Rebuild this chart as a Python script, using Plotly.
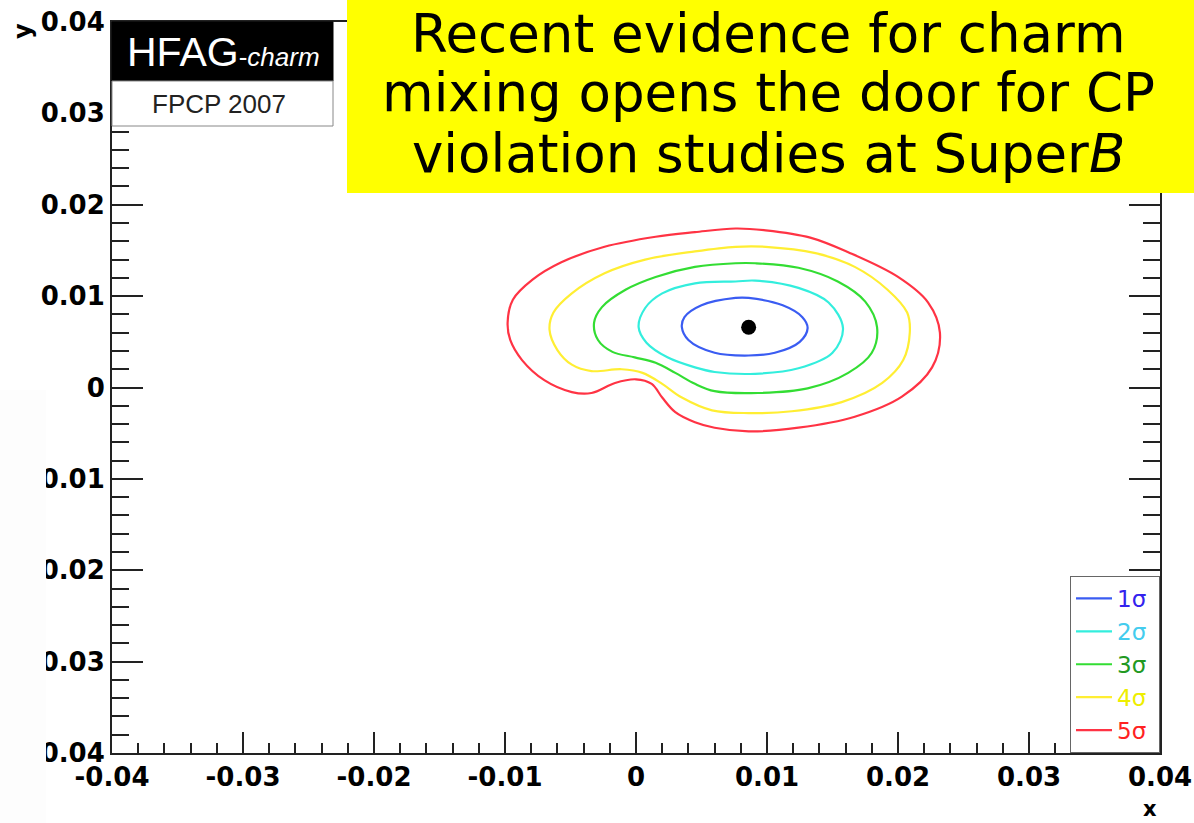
import plotly.graph_objects as go

# ---------------- data ----------------
tick_vals = [-0.04, -0.03, -0.02, -0.01, 0.0, 0.01, 0.02, 0.03, 0.04]
tick_text = ["-0.04", "-0.03", "-0.02", "-0.01", "0", "0.01", "0.02", "0.03", "0.04"]

best_x = [0.0086]
best_y = [0.0066]

c1_x = [0.0076, 0.0086, 0.0112, 0.0127, 0.0131, 0.0125, 0.0106, 0.0086, 0.0060, 0.0040, 0.0035, 0.0037, 0.0050]
c1_y = [0.0098, 0.0098, 0.0090, 0.0077, 0.0065, 0.0050, 0.0038, 0.0035, 0.0038, 0.0052, 0.0066, 0.0077, 0.0090]

c2_x = [0.0045, 0.0076, 0.0091, 0.0124, 0.0147, 0.0158, 0.0150, 0.0124, 0.0091, 0.0060, 0.0045, 0.0024, 0.0008, 0.0002, 0.0007, 0.0020]
c2_y = [0.0114, 0.0116, 0.0117, 0.0109, 0.0093, 0.0065, 0.0038, 0.0021, 0.0015, 0.0017, 0.0022, 0.0033, 0.0049, 0.0066, 0.0087, 0.0103]

c3_x = [0.0045, 0.0076, 0.0091, 0.0124, 0.0154, 0.0175, 0.0184, 0.0180, 0.0162, 0.0131, 0.0093, 0.0060, 0.0045, 0.0030, 0.0015, -0.0001, -0.0018, -0.0029, -0.0032, -0.0026, -0.0008, 0.0015]
c3_y = [0.0132, 0.0136, 0.0136, 0.0131, 0.0116, 0.0094, 0.0066, 0.0038, 0.0016, -0.0001, -0.0006, -0.0004, 0.0004, 0.0016, 0.0027, 0.0033, 0.0039, 0.0052, 0.0071, 0.0088, 0.0107, 0.0121]

c4_x = [0.0045, 0.0076, 0.0099, 0.0137, 0.0167, 0.0192, 0.0207, 0.0209, 0.0204, 0.0188, 0.0157, 0.0119, 0.0086, 0.0058, 0.0035, 0.0020, 0.0005, -0.0011, -0.0034, -0.0049, -0.0060, -0.0066, -0.0063, -0.0049, -0.0024, 0.0007]
c4_y = [0.0149, 0.0154, 0.0154, 0.0147, 0.0132, 0.0107, 0.0082, 0.0060, 0.0030, 0.0005, -0.0016, -0.0026, -0.0028, -0.0025, -0.0011, 0.0004, 0.0016, 0.0020, 0.0018, 0.0025, 0.0041, 0.0063, 0.0082, 0.0103, 0.0125, 0.0140]

c5_x = [0.0045, 0.0076, 0.0099, 0.0133, 0.0162, 0.0200, 0.0223, 0.0232, 0.0226, 0.0203, 0.0167, 0.0124, 0.0086, 0.0060, 0.0045, 0.0030, 0.0020, 0.0012, 0.0000, -0.0016, -0.0034, -0.0049, -0.0070, -0.0087, -0.0096, -0.0098, -0.0094, -0.0079, -0.0057, -0.0024, 0.0015]
c5_y = [0.0170, 0.0174, 0.0172, 0.0164, 0.0148, 0.0121, 0.0093, 0.0060, 0.0022, -0.0010, -0.0032, -0.0044, -0.0048, -0.0044, -0.0038, -0.0027, -0.0011, 0.0004, 0.0009, 0.0005, -0.0006, -0.0005, 0.0008, 0.0030, 0.0052, 0.0071, 0.0096, 0.0118, 0.0137, 0.0154, 0.0165]

contour_names = ["1σ", "2σ", "3σ", "4σ", "5σ"]
contour_line_colors = ["#3a5cf2", "#33eedd", "#33dd33", "#ffee33", "#ff3344"]
legend_text_colors = ["#3322ee", "#44ccee", "#229922", "#eeee00", "#ff2222"]

title_lines = ["Recent evidence for charm", "mixing opens the door for CP", "violation studies at Super<i>B</i>"]

# ---------------- figure ----------------
W, H = 1194, 823
L, R, T, B = 112, 34, 22, 70
PW, PH = W - L - R, H - T - B


def px_x(p):
    return (p - L) / PW


def px_y(p):
    return (H - B - p) / PH


fig = go.Figure()

contours = [(c1_x, c1_y), (c2_x, c2_y), (c3_x, c3_y), (c4_x, c4_y), (c5_x, c5_y)]
for (cx, cy), name, lc, tc in zip(contours, contour_names, contour_line_colors, legend_text_colors):
    fig.add_trace(go.Scatter(
        x=cx + cx[:1], y=cy + cy[:1], mode="lines",
        line=dict(color=lc, width=2.2, shape="spline", smoothing=1.0),
        name=f"<span style='color:{tc}'>{name}</span>&nbsp;",
        hoverinfo="skip",
    ))

fig.add_trace(go.Scatter(
    x=best_x, y=best_y, mode="markers",
    marker=dict(color="black", size=15),
    showlegend=False, hoverinfo="skip",
))

axis_common = dict(
    range=[-0.04, 0.04], tickmode="array", tickvals=tick_vals, ticktext=tick_text,
    ticks="inside", tickcolor="#222222", tickwidth=1.5,
    showline=True, linecolor="#222222", linewidth=2, mirror="ticks",
    showgrid=False, zeroline=False,
    tickfont=dict(family="DejaVu Sans", size=26, color="black", weight="bold"),
)

fig.update_xaxes(**axis_common, ticklen=21,
                 minor=dict(tick0=-0.04, dtick=0.002, ticks="inside", ticklen=10,
                            tickwidth=1.5, tickcolor="#222222", showgrid=False))
fig.update_yaxes(**axis_common, ticklen=31,
                 minor=dict(tick0=-0.04, dtick=0.002, ticks="inside", ticklen=17,
                            tickwidth=1.5, tickcolor="#222222", showgrid=False))

shapes = [
    # HFAG box
    dict(type="rect", xref="paper", yref="paper", x0=px_x(112), x1=px_x(333), y0=px_y(81), y1=px_y(22),
         fillcolor="black", line=dict(color="black", width=1), layer="above"),
    dict(type="rect", xref="paper", yref="paper", x0=px_x(112), x1=px_x(333), y0=px_y(126), y1=px_y(81),
         fillcolor="white", line=dict(color="#888888", width=1), layer="above"),
    # yellow box
    dict(type="rect", xref="paper", yref="paper", x0=px_x(347), x1=px_x(1194), y0=px_y(193), y1=px_y(-2),
         fillcolor="#ffff00", line=dict(width=0), layer="above"),
    # left clipped strip
    dict(type="rect", xref="paper", yref="paper", x0=px_x(-2), x1=px_x(46), y0=px_y(825), y1=px_y(390),
         fillcolor="#fdfdfd", line=dict(width=0), layer="above"),
]

annotations = [
    dict(text="HFAG<span style='font-size:26px'>-<i>charm</i></span>", xref="paper", yref="paper",
         x=px_x(223), y=px_y(52), xanchor="center", yanchor="middle", showarrow=False,
         font=dict(family="Liberation Sans", size=41, color="white")),
    dict(text="FPCP 2007", xref="paper", yref="paper",
         x=px_x(219), y=px_y(104), xanchor="center", yanchor="middle", showarrow=False,
         font=dict(family="Liberation Sans", size=26, color="#222222")),
    dict(text="y", xref="paper", yref="paper", x=px_x(23), y=px_y(31), xanchor="center", yanchor="middle",
         showarrow=False, textangle=-90,
         font=dict(family="DejaVu Sans", size=24, color="black", weight="bold")),
    dict(text="x", xref="paper", yref="paper", x=px_x(1150), y=px_y(809), xanchor="center", yanchor="middle",
         showarrow=False, font=dict(family="DejaVu Sans", size=21, color="black", weight="bold")),
]
for line, yc in zip(title_lines, [33, 93, 153]):
    annotations.append(dict(text=line, xref="paper", yref="paper", x=px_x(768), y=px_y(yc),
                            xanchor="center", yanchor="middle", showarrow=False,
                            font=dict(family="DejaVu Sans", size=53, color="black")))

fig.update_layout(
    width=W, height=H,
    margin=dict(l=L, r=R, t=T, b=B, autoexpand=False),
    paper_bgcolor="white", plot_bgcolor="white",
    shapes=shapes, annotations=annotations,
    showlegend=True,
    legend=dict(x=1.0, y=0.0, xanchor="right", yanchor="bottom",
                bgcolor="white", bordercolor="#666666", borderwidth=1,
                font=dict(family="DejaVu Sans", size=23, color="black"),
                itemwidth=36),
)

fig.write_html("out.html")
